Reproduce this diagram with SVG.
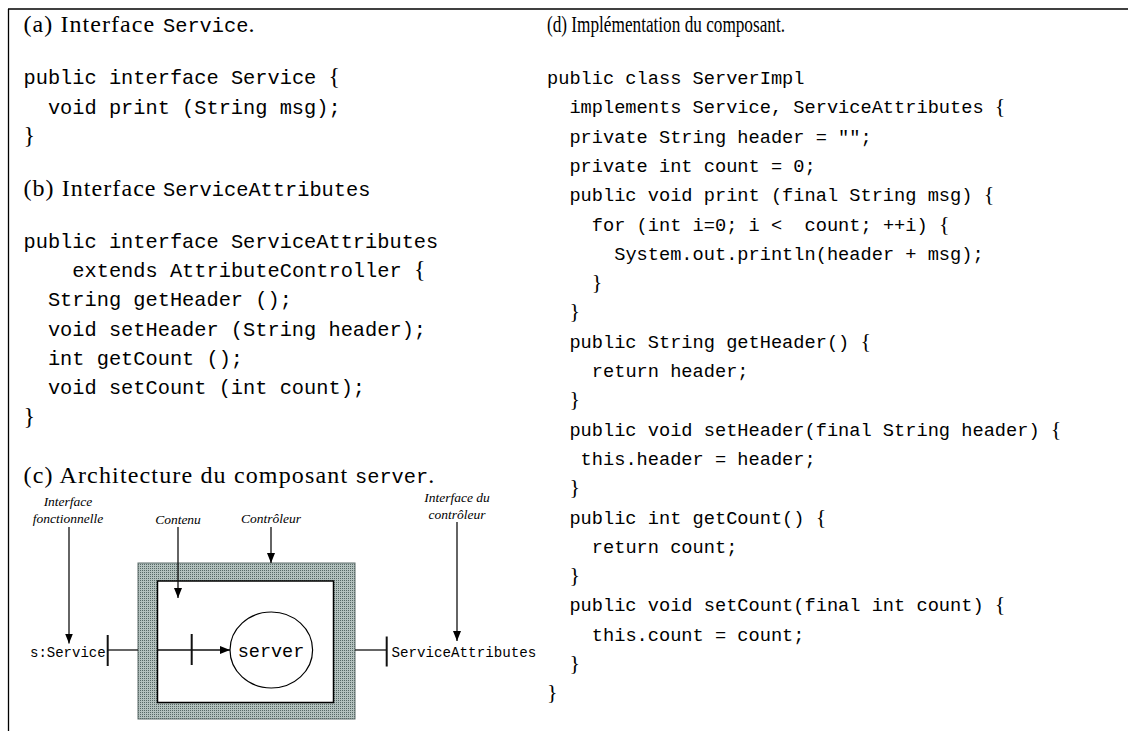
<svg xmlns="http://www.w3.org/2000/svg" width="1128" height="731" viewBox="0 0 1128 731">
<defs>
<style>
.h{font-family:"Liberation Serif",serif;font-size:24px;fill:#000}
.c{font-family:"Liberation Mono",monospace;font-size:20.33px;fill:#000;white-space:pre}
.r{font-family:"Liberation Mono",monospace;font-size:18.67px;fill:#000;white-space:pre}
.b{font-family:"Liberation Serif",serif;font-size:24px}
.rb{font-family:"Liberation Serif",serif;font-size:22px}
.lbl{font-family:"Liberation Serif",serif;font-style:italic;font-size:13.5px;text-anchor:middle;fill:#000}
.d{font-family:"Liberation Mono",monospace;fill:#000}
.ln{stroke:#111;stroke-width:1.3;fill:none}
.tk{stroke:#111;stroke-width:2;fill:none}
.frame{stroke:#000;stroke-width:1.3;fill:none}
</style>
<pattern id="dots" width="2" height="2" patternUnits="userSpaceOnUse">
<rect width="2" height="2" fill="#b3c1be"/>
<rect width="1" height="1" fill="#566865"/>
</pattern>
<marker id="ah" markerWidth="10" markerHeight="8" refX="10" refY="4" orient="auto" markerUnits="userSpaceOnUse">
<path d="M0,0 L10,4 L0,8 z" fill="#000"/>
</marker>
</defs>
<rect width="1128" height="731" fill="#fff"/>
<g id="frame">
<line class="frame" x1="8" y1="9" x2="1128" y2="9"/>
<line class="frame" x1="8.5" y1="9" x2="8.5" y2="731"/>
</g>

<g id="panel-a">
<text class="h" x="23.5" y="32" textLength="130.7" lengthAdjust="spacing">(a) Interface</text>
<text class="c" x="163" y="32">Service</text>
<text class="h" x="248.4" y="32">.</text>
<text class="c" x="23.5" y="84.3">public interface Service <tspan class="b">{</tspan></text>
<text class="c" x="47.9" y="113.6">void print (String msg);</text>
<text class="c" x="23.5" y="142.9"><tspan class="b">}</tspan></text>
</g>

<g id="panel-b">
<text class="h" x="23.5" y="196" textLength="132" lengthAdjust="spacing">(b) Interface</text>
<text class="c" x="163" y="196">ServiceAttributes</text>
<text class="c" x="23.5" y="247.7">public interface ServiceAttributes</text>
<text class="c" x="72.3" y="277">extends AttributeController <tspan class="b">{</tspan></text>
<text class="c" x="47.9" y="306.3">String getHeader ();</text>
<text class="c" x="47.9" y="335.6">void setHeader (String header);</text>
<text class="c" x="47.9" y="364.9">int getCount ();</text>
<text class="c" x="47.9" y="394.2">void setCount (int count);</text>
<text class="c" x="23.5" y="423.5"><tspan class="b">}</tspan></text>
</g>

<g id="panel-c-title">
<text class="h" x="23.5" y="483" textLength="323.6" lengthAdjust="spacing">(c) Architecture du composant</text>
<text class="c" x="355" y="483">server</text>
<text class="h" x="428.3" y="483">.</text>
</g>

<g id="panel-d">
<text class="h" x="547" y="32" font-size="19" textLength="238" lengthAdjust="spacingAndGlyphs">(d) Implémentation du composant.</text>
<text class="r" x="547" y="84">public class ServerImpl</text>
<text class="r" x="569.4" y="113.3">implements Service, ServiceAttributes <tspan class="rb">{</tspan></text>
<text class="r" x="569.4" y="142.6">private String header = "";</text>
<text class="r" x="569.4" y="171.9">private int count = 0;</text>
<text class="r" x="569.4" y="201.2">public void print (final String msg) <tspan class="rb">{</tspan></text>
<text class="r" x="591.8" y="230.5">for (int i=0; i &lt;  count; ++i) <tspan class="rb">{</tspan></text>
<text class="r" x="614.2" y="259.8">System.out.println(header + msg);</text>
<text class="r" x="591.8" y="289.1"><tspan class="rb">}</tspan></text>
<text class="r" x="569.4" y="318.4"><tspan class="rb">}</tspan></text>
<text class="r" x="569.4" y="347.7">public String getHeader() <tspan class="rb">{</tspan></text>
<text class="r" x="591.8" y="377">return header;</text>
<text class="r" x="569.4" y="406.3"><tspan class="rb">}</tspan></text>
<text class="r" x="569.4" y="435.6">public void setHeader(final String header) <tspan class="rb">{</tspan></text>
<text class="r" x="580.6" y="464.9">this.header = header;</text>
<text class="r" x="569.4" y="494.2"><tspan class="rb">}</tspan></text>
<text class="r" x="569.4" y="523.5">public int getCount() <tspan class="rb">{</tspan></text>
<text class="r" x="591.8" y="552.8">return count;</text>
<text class="r" x="569.4" y="582.1"><tspan class="rb">}</tspan></text>
<text class="r" x="569.4" y="611.4">public void setCount(final int count) <tspan class="rb">{</tspan></text>
<text class="r" x="591.8" y="640.7">this.count = count;</text>
<text class="r" x="569.4" y="670"><tspan class="rb">}</tspan></text>
<text class="r" x="547" y="699.3"><tspan class="rb">}</tspan></text>
</g>

<g id="controller">
<rect x="138" y="563" width="217" height="156" fill="url(#dots)" stroke="#5c6d6a" stroke-width="1"/>
</g>
<g id="content">
<rect x="157.5" y="581" width="176" height="121.5" fill="#fff" stroke="#000" stroke-width="1.5"/>
</g>
<g id="server">
<ellipse cx="271.3" cy="650" rx="41.3" ry="38" fill="#fff" stroke="#000" stroke-width="1.2"/>
<text class="d" x="271" y="656.5" font-size="18.5" text-anchor="middle">server</text>
</g>
<g id="itf-service">
<line class="tk" x1="107.7" y1="635" x2="107.7" y2="666"/>
<text class="d" x="30" y="657" font-size="14">s:Service</text>
</g>
<g id="itf-inner">
<line class="tk" x1="191.7" y1="634" x2="191.7" y2="665"/>
</g>
<g id="itf-attributes">
<line class="tk" x1="386.7" y1="636.5" x2="386.7" y2="666.5"/>
<text class="d" x="391.5" y="657" font-size="14.2">ServiceAttributes</text>
</g>

<g id="labels">
<text class="lbl" x="68" y="505.5">Interface</text>
<text class="lbl" x="68" y="523">fonctionnelle</text>
<text class="lbl" x="178" y="524">Contenu</text>
<text class="lbl" x="271" y="523">Contrôleur</text>
<text class="lbl" x="457" y="502">Interface du</text>
<text class="lbl" x="457" y="519">contrôleur</text>
</g>

<g id="connectors">
<line class="ln" x1="107.7" y1="650" x2="138" y2="650"/>
<line class="ln" x1="157.5" y1="650" x2="230" y2="650" marker-end="url(#ah)"/>
<line class="ln" x1="355" y1="650" x2="386.7" y2="650"/>
<line class="ln" x1="69" y1="527" x2="69" y2="643.5" marker-end="url(#ah)"/>
<line class="ln" x1="178" y1="527" x2="178" y2="598" marker-end="url(#ah)"/>
<line class="ln" x1="271" y1="527" x2="271" y2="563" marker-end="url(#ah)"/>
<line class="ln" x1="457" y1="522" x2="457" y2="641" marker-end="url(#ah)"/>
</g>
</svg>
